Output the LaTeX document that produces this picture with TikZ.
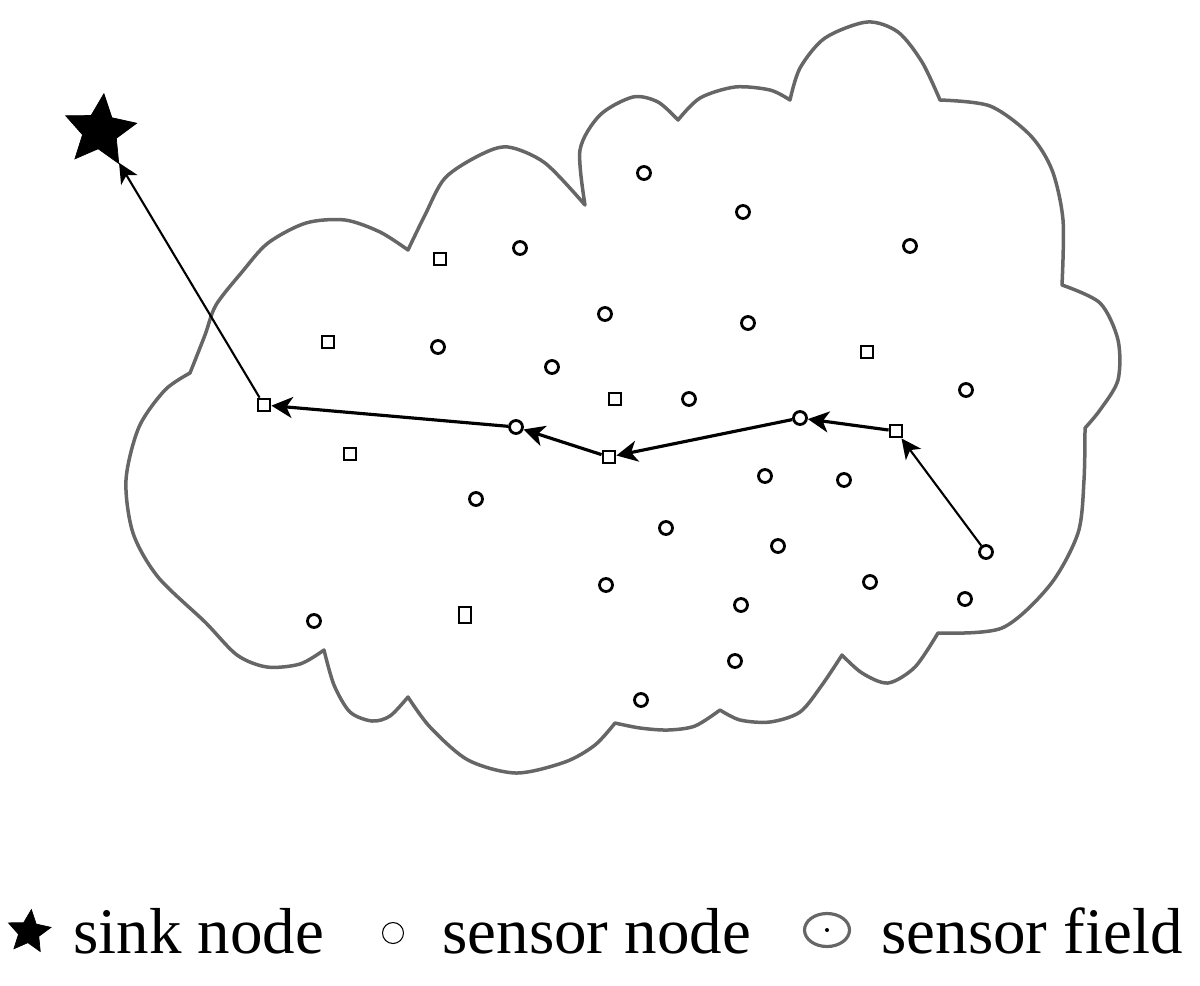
\documentclass[tikz,border=0pt]{standalone}
\usepackage{fontspec}
\setmainfont{Liberation Serif}
\usetikzlibrary{arrows.meta,shapes,positioning}

\begin{document}
\begin{tikzpicture}
  [%
 x=0.02cm,y=-0.02cm,
 sensor/.style={
  circle,
  minimum size=0.26cm,
  inner sep=0pt,
  line width=1.6pt, % border
 draw=black},
 sensorsq/.style={
  rectangle,
  minimum size=0.24cm,
  inner sep=0pt,
  line width=1.6pt, % border
 draw=black},
 sink/.style={
  star,
  star points=5,
  star point ratio=2.1,
  minimum size=1.5cm,
  inner sep=0pt,
  rotate=-6,
 fill=black,
 draw=black},
 field/.style={draw=black!60, line width=0.07cm, line join=round},
 hop/.style={-{Stealth[length=0.42cm,width=0.42cm,inset=0.12cm]}, line width=1.8pt},
 hopthin/.style={-{Stealth[length=0.4cm,width=0.38cm,inset=0.11cm]}, line width=1.2pt},
 legend/.style={anchor=base west, inner sep=0pt, font=\fontsize{37}{44}\selectfont}]
\useasboundingbox (0,0) rectangle (1200,985);
% sensor field
\draw[field] plot[smooth] coordinates {(190,373) (205,335) (216,305) (242,272) (268,243) (306,223) (345,220) (380,232) (408,250)}
 -- plot[smooth] coordinates {(408,250) (425,215) (445,178) (480,155) (508,147) (545,163) (585,205)}
 -- plot[smooth] coordinates {(585,205) (580,150) (600,115) (633,97) (658,102) (678,120)}
 -- plot[smooth] coordinates {(678,120) (700,98) (735,87) (770,90) (790,100)}
 -- plot[smooth] coordinates {(790,100) (800,68) (825,38) (867,22) (898,32) (922,62) (940,100)}
 -- plot[smooth] coordinates {(940,100) (990,106) (1030,135) (1052,170) (1063,220) (1062,285)}
 -- plot[smooth] coordinates {(1062,285) (1100,303) (1118,340) (1118,380) (1100,410) (1085,428)}
 -- plot[smooth] coordinates {(1085,428) (1084,480) (1078,533) (1050,585) (1002,628) (938,633)}
 -- plot[smooth] coordinates {(938,633) (915,667) (888,683) (862,673) (842,655)}
 -- plot[smooth] coordinates {(842,655) (822,685) (800,712) (770,722) (740,720) (720,710)}
 -- plot[smooth] coordinates {(720,710) (695,726) (668,730) (640,728) (615,723)}
 -- plot[smooth] coordinates {(615,723) (595,745) (565,762) (516,773) (468,760) (430,727) (408,697)}
 -- plot[smooth] coordinates {(408,697) (390,716) (372,721) (350,712) (334,685) (324,650)}
 -- plot[smooth] coordinates {(324,650) (300,664) (267,667) (237,655) (205,622) (158,577) (133,533) (126,480) (139,427) (165,390) (190,373)}
 -- cycle;
% sink and route
\node (sink) [sink] at (100,131) {};
\node (r1) [sensorsq] at (264,405) {};
\node (r2) [sensor] at (516,427) {};
\node (r3) [sensorsq] at (609,457) {};
\node (r4) [sensor] at (800,418) {};
\node (r5) [sensorsq] at (896,431) {};
\node (src) [sensor] at (986,552) {};
% other sensors
\node (s1) [sensor] at (644,173) {};
\node (s2) [sensor] at (743,212) {};
\node (s3) [sensor] at (910,246) {};
\node (s4) [sensor] at (520,248) {};
\node (s5) [sensorsq] at (440,259) {};
\node (s6) [sensor] at (605,314) {};
\node (s7) [sensor] at (748,323) {};
\node (s8) [sensorsq] at (328,342) {};
\node (s9) [sensor] at (438,347) {};
\node (s10) [sensorsq] at (867,352) {};
\node (s11) [sensor] at (552,367) {};
\node (s12) [sensorsq] at (615,399) {};
\node (s13) [sensor] at (689,399) {};
\node (s14) [sensor] at (966,390) {};
\node (s15) [sensorsq] at (350,454) {};
\node (s16) [sensor] at (765,476) {};
\node (s17) [sensor] at (844,480) {};
\node (s18) [sensor] at (476,499) {};
\node (s19) [sensor] at (666,528) {};
\node (s20) [sensor] at (778,546) {};
\node (s21) [sensor] at (606,585) {};
\node (s22) [sensor] at (870,582) {};
\node (s23) [sensor] at (965,599) {};
\node (s24) [sensor] at (741,605) {};
\node (s25) [sensorsq, minimum height=0.32cm] at (465,615) {};
\node (s26) [sensor] at (314,621) {};
\node (s27) [sensor] at (735,661) {};
\node (s28) [sensor] at (641,700) {};
\path (src)  edge[hopthin] (r5) ;
\path (r5)  edge[hop] (r4) ;
\path (r4)  edge[hop] (r3) ;
\path (r3)  edge[hop] (r2) ;
\path (r2)  edge[hop] (r1) ;
\path (r1)  edge[hopthin] (sink) ;
% legend
\node (keysink) [sink, minimum size=0.9cm] at (29,932) {};
\node (sinktxt) [legend] at (73,953) {sink node};
\node (keysensor) [sensor, line width=0.6pt, minimum size=0.42cm] at (393,933) {};
\node (sensortxt) [legend] at (442,953) {sensor node};
\node (keyfield) [ellipse, draw=black!60, line width=1.8pt, minimum width=0.9cm, minimum height=0.66cm] at (827,930) {};
\fill (keyfield.center) circle (0.04cm);
\node (fieldtxt) [legend] at (881,953) {sensor field};
\end{tikzpicture}
\end{document}
